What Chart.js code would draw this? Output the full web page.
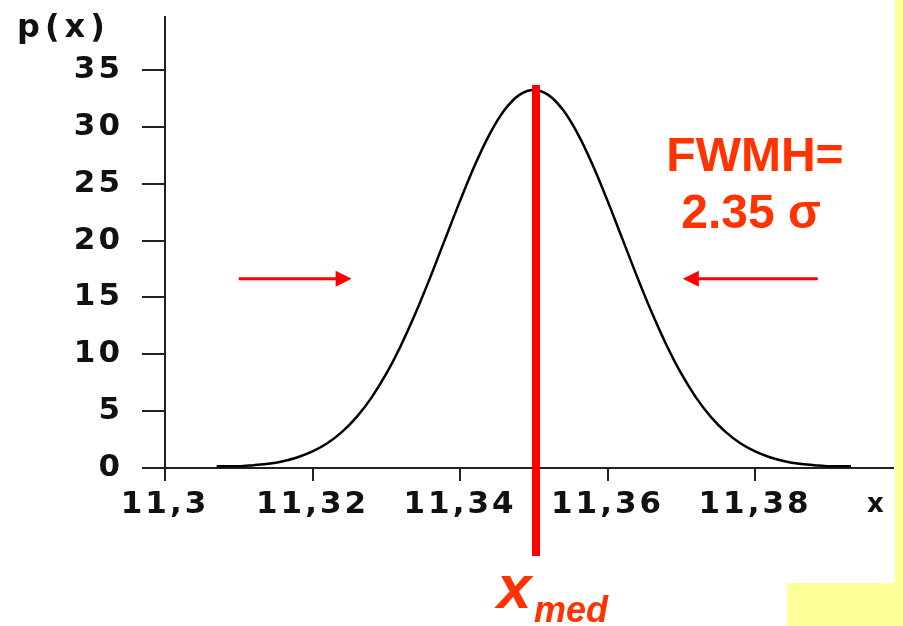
<!DOCTYPE html>
<html lang="it">
<head>
    <meta charset="UTF-8">
    <title>Distribuzione gaussiana - FWMH</title>
    <script src="https://cdn.jsdelivr.net/npm/chart.js"></script>
    <style>
        html, body { margin: 0; padding: 0; background: white; overflow: hidden; }
        canvas { display: block; }
    </style>
</head>
<body>
    <canvas id="gaussCanvas" width="903" height="626"></canvas>

    <script>
        // values
        const xValues = [11.307, 11.310, 11.312, 11.314, 11.316, 11.318, 11.320, 11.322, 11.324, 11.326,
                         11.328, 11.330, 11.332, 11.334, 11.336, 11.338, 11.340, 11.342, 11.344, 11.346,
                         11.348, 11.350, 11.352, 11.354, 11.356, 11.358, 11.360, 11.362, 11.364, 11.366,
                         11.368, 11.370, 11.372, 11.374, 11.376, 11.378, 11.380, 11.382, 11.384, 11.386,
                         11.388, 11.390, 11.393];
        const pValues = [0.15, 0.15, 0.25, 0.37, 0.60, 0.95, 1.46, 2.18, 3.18, 4.50,
                         6.19, 8.29, 10.80, 13.67, 16.83, 20.17, 23.49, 26.62, 29.34, 31.45,
                         32.79, 33.25, 32.79, 31.45, 29.34, 26.62, 23.49, 20.17, 16.83, 13.67,
                         10.80, 8.29, 6.19, 4.50, 3.18, 2.18, 1.46, 0.95, 0.60, 0.37,
                         0.25, 0.15, 0.15];
        const xTicks = [11.3, 11.32, 11.34, 11.36, 11.38];
        const xTickLabels = ["11,3", "11,32", "11,34", "11,36", "11,38"];
        const yTicks = [0, 5, 10, 15, 20, 25, 30, 35];

        const xMed = 11.3503;
        const halfMax = 16.65;

        const tickFont = { family: "'DejaVu Sans', sans-serif", size: 31, weight: "bold" };
        const red = "#ff0000";
        const orange = "#ff3300";
        const yellow = "#ffff99";

        function arrow(ctx, x1, x2, y) {
            // arrow from x1 pointing to x2
            let dir = x2 > x1 ? 1 : -1;
            ctx.strokeStyle = red;
            ctx.fillStyle = red;
            ctx.lineWidth = 3;
            ctx.beginPath();
            ctx.moveTo(x1, y);
            ctx.lineTo(x2 - dir * 14, y);
            ctx.stroke();
            ctx.beginPath();
            ctx.moveTo(x2, y);
            ctx.lineTo(x2 - dir * 16, y - 8);
            ctx.lineTo(x2 - dir * 16, y + 8);
            ctx.closePath();
            ctx.fill();
        }

        const extras = {
            id: "extras",
            beforeDraw(chart) {
                let ctx = chart.ctx;
                ctx.fillStyle = "white";
                ctx.fillRect(0, 0, chart.width, chart.height);
                ctx.fillStyle = yellow;
                ctx.fillRect(895, 0, 8, 583);
                ctx.fillRect(787, 583, 116, 43);
                ctx.letterSpacing = "3px";
            },
            afterDraw(chart) {
                let ctx = chart.ctx;
                let xs = chart.scales.x, ys = chart.scales.y;
                ctx.save();

                // axis names
                ctx.fillStyle = "#111";
                ctx.font = "bold 32px 'DejaVu Sans'";
                ctx.letterSpacing = "5px";
                ctx.textAlign = "left";
                ctx.textBaseline = "alphabetic";
                ctx.fillText("p(x)", 17, 37);
                ctx.font = "bold 26px 'DejaVu Sans'";
                ctx.fillText("x", 867, 512);
                ctx.letterSpacing = "0px";

                // median line
                let xm = xs.getPixelForValue(xMed);
                ctx.fillStyle = red;
                ctx.fillRect(xm - 4, 85, 8, 471);

                // FWHM arrows at half maximum
                let yh = ys.getPixelForValue(halfMax);
                arrow(ctx, xs.getPixelForValue(11.310), xs.getPixelForValue(11.3253), yh);
                arrow(ctx, xs.getPixelForValue(11.3885), xs.getPixelForValue(11.3702), yh);

                // labels
                ctx.fillStyle = orange;
                ctx.textAlign = "center";
                ctx.font = "bold 48px 'Liberation Sans', Arial, sans-serif";
                ctx.fillText("FWMH=", 755, 171);
                ctx.fillText("2.35 \u03c3", 751, 228);

                ctx.textAlign = "left";
                ctx.font = "italic bold 62px 'Liberation Sans', Arial, sans-serif";
                ctx.fillText("x", 497, 608);
                ctx.font = "italic bold 36px 'Liberation Sans', Arial, sans-serif";
                ctx.fillText("med", 534, 622);

                ctx.restore();
            }
        };

        new Chart(document.getElementById("gaussCanvas"), {
            type: "line",
            data: {
                datasets: [{
                    data: xValues.map((x, i) => ({ x: x, y: pValues[i] })),
                    borderColor: "#000",
                    borderWidth: 2.5,
                    pointRadius: 0,
                    fill: false,
                    cubicInterpolationMode: "monotone"
                }]
            },
            options: {
                responsive: false,
                devicePixelRatio: 1,
                animation: false,
                layout: { padding: { top: 17, right: 10, left: 0, bottom: 0 } },
                plugins: { legend: { display: false }, tooltip: { enabled: false } },
                scales: {
                    x: {
                        type: "linear",
                        min: 11.3,
                        max: 11.3987,
                        afterBuildTicks: axis => { axis.ticks = xTicks.map(v => ({ value: v })); },
                        afterFit: axis => {
                            axis.height = 158;
                            axis.paddingLeft = 0;
                            axis.paddingRight = 0;
                        },
                        grid: { drawOnChartArea: false, drawTicks: true, tickLength: 13, color: "#222", lineWidth: 2 },
                        border: { display: true, color: "#222", width: 2 },
                        ticks: {
                            autoSkip: false,
                            maxRotation: 0,
                            padding: 5,
                            color: "#111",
                            font: tickFont,
                            callback: (v, i) => xTickLabels[i]
                        }
                    },
                    y: {
                        min: 0,
                        max: 39.66,
                        afterBuildTicks: axis => { axis.ticks = yTicks.map(v => ({ value: v })); },
                        afterFit: axis => {
                            axis.width = 165;
                            axis.paddingTop = 0;
                            axis.paddingBottom = 0;
                        },
                        grid: { drawOnChartArea: false, drawTicks: true, tickLength: 23, color: "#222", lineWidth: 2 },
                        border: { display: true, color: "#222", width: 2 },
                        ticks: {
                            padding: 19,
                            color: "#111",
                            font: tickFont,
                            callback: v => String(v)
                        }
                    }
                }
            },
            plugins: [extras]
        });
    </script>
</body>
</html>
